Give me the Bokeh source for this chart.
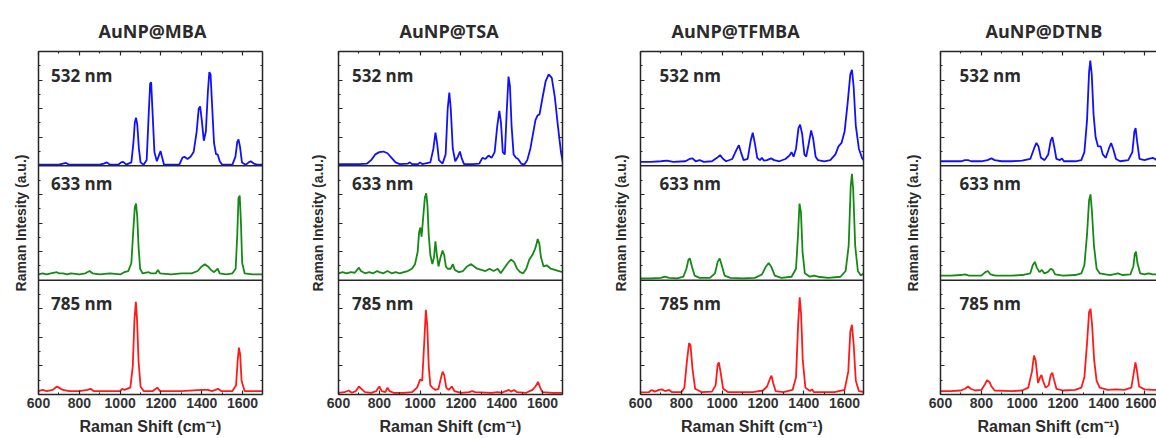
from bokeh.plotting import figure
from bokeh.layouts import row
from bokeh.models import Range1d, FixedTicker, Span, Label, LinearAxis
from bokeh.embed import file_html
from bokeh.resources import INLINE

# ---------------- data ----------------
titles = ["AuNP@MBA", "AuNP@TSA", "AuNP@TFMBA", "AuNP@DTNB"]
lasers = ["532 nm", "633 nm", "785 nm"]
line_colors = ["#1010ff", "#148a14", "#ff1a1a"]
x_major = [600, 800, 1000, 1200, 1400, 1600]
x_minor = [600, 700, 800, 900, 1000, 1100, 1200, 1300, 1400, 1500, 1600, 1700]
y_major = [0, 0.25, 0.5, 0.75, 1, 1.25, 1.5, 1.75, 2, 2.25, 2.5, 2.75, 3]
y_minor = [0.125, 0.375, 0.625, 0.875, 1.125, 1.375, 1.625, 1.875, 2.125, 2.375, 2.625, 2.875]
y_label = "Raman Intesity (a.u.)"
x_label = "Raman Shift (cm\u207b\u00b9)"

mba_532 = [(600,0.01),(640,0.01),(700,0.01),(720,0.02),(735,0.025),(750,0.01),(800,0.01),(900,0.01),(920,0.02),(935,0.03),(950,0.01),(990,0.01),(1005,0.03),(1015,0.035),(1030,0.01),(1055,0.03),(1065,0.2),(1072,0.38),(1078,0.42),(1084,0.36),(1092,0.15),(1100,0.03),(1115,0.01),(1130,0.05),(1140,0.45),(1147,0.72),(1152,0.73),(1158,0.5),(1168,0.12),(1180,0.04),(1192,0.1),(1198,0.13),(1205,0.08),(1215,0.01),(1260,0.01),(1290,0.01),(1305,0.07),(1315,0.08),(1330,0.06),(1345,0.08),(1360,0.12),(1375,0.3),(1385,0.5),(1392,0.52),(1400,0.4),(1410,0.22),(1420,0.3),(1430,0.65),(1437,0.82),(1443,0.8),(1450,0.55),(1460,0.2),(1470,0.1),(1478,0.1),(1488,0.04),(1500,0.01),(1550,0.01),(1565,0.08),(1574,0.21),(1580,0.23),(1587,0.17),(1597,0.03),(1615,0.01),(1630,0.03),(1640,0.04),(1655,0.02),(1670,0.01),(1700,0.01)]
mba_633 = [(600,0.05),(620,0.06),(640,0.05),(660,0.06),(690,0.07),(700,0.06),(720,0.06),(740,0.05),(760,0.06),(800,0.05),(830,0.06),(850,0.08),(865,0.06),(900,0.05),(950,0.06),(1000,0.05),(1020,0.07),(1040,0.08),(1055,0.15),(1065,0.45),(1072,0.64),(1078,0.67),(1084,0.55),(1090,0.3),(1098,0.1),(1110,0.06),(1140,0.07),(1150,0.06),(1175,0.06),(1185,0.09),(1195,0.06),(1250,0.05),(1300,0.06),(1350,0.06),(1380,0.08),(1400,0.12),(1415,0.14),(1430,0.12),(1445,0.09),(1460,0.07),(1478,0.1),(1488,0.06),(1520,0.05),(1550,0.06),(1566,0.1),(1574,0.4),(1580,0.72),(1586,0.74),(1592,0.5),(1598,0.15),(1610,0.06),(1650,0.05),(1700,0.05)]
mba_785 = [(600,0.03),(620,0.04),(640,0.03),(670,0.04),(690,0.07),(700,0.06),(720,0.04),(750,0.03),(800,0.03),(840,0.04),(855,0.05),(870,0.03),(950,0.03),(1000,0.03),(1010,0.05),(1020,0.04),(1050,0.06),(1062,0.25),(1070,0.65),(1077,0.81),(1083,0.65),(1090,0.3),(1100,0.07),(1115,0.03),(1160,0.03),(1175,0.05),(1182,0.06),(1195,0.03),(1300,0.03),(1400,0.04),(1430,0.04),(1450,0.03),(1480,0.05),(1495,0.03),(1550,0.03),(1568,0.08),(1576,0.3),(1582,0.41),(1588,0.35),(1595,0.12),(1610,0.03),(1700,0.03)]

tsa_532 = [(600,0.015),(650,0.015),(700,0.015),(740,0.02),(760,0.05),(780,0.1),(800,0.12),(820,0.125),(840,0.11),(860,0.07),(880,0.03),(900,0.015),(940,0.02),(950,0.03),(960,0.015),(990,0.015),(1000,0.03),(1010,0.015),(1050,0.03),(1065,0.15),(1075,0.29),(1083,0.2),(1092,0.05),(1110,0.02),(1125,0.1),(1135,0.5),(1143,0.64),(1150,0.5),(1160,0.15),(1172,0.04),(1185,0.08),(1195,0.125),(1203,0.07),(1215,0.015),(1260,0.015),(1290,0.02),(1305,0.07),(1320,0.06),(1335,0.09),(1350,0.07),(1365,0.12),(1378,0.35),(1388,0.48),(1396,0.38),(1405,0.12),(1415,0.1),(1425,0.5),(1433,0.78),(1440,0.7),(1448,0.35),(1458,0.1),(1470,0.07),(1480,0.06),(1495,0.02),(1510,0.01),(1525,0.05),(1540,0.15),(1555,0.3),(1565,0.4),(1575,0.44),(1585,0.45),(1600,0.6),(1615,0.74),(1630,0.8),(1645,0.77),(1660,0.6),(1675,0.35),(1690,0.12),(1700,0.02)]
tsa_633 = [(600,0.06),(620,0.07),(640,0.06),(660,0.07),(680,0.065),(700,0.11),(710,0.08),(730,0.06),(750,0.07),(770,0.06),(790,0.08),(800,0.07),(820,0.06),(840,0.08),(860,0.06),(880,0.07),(900,0.06),(920,0.07),(940,0.08),(960,0.1),(975,0.14),(988,0.25),(995,0.42),(1001,0.46),(1007,0.38),(1015,0.55),(1023,0.72),(1030,0.76),(1036,0.65),(1042,0.4),(1050,0.22),(1060,0.14),(1068,0.2),(1075,0.34),(1082,0.22),(1090,0.12),(1100,0.2),(1110,0.26),(1118,0.22),(1126,0.12),(1135,0.1),(1150,0.1),(1160,0.14),(1170,0.09),(1190,0.07),(1210,0.08),(1230,0.12),(1250,0.14),(1265,0.12),(1280,0.1),(1300,0.09),(1320,0.08),(1340,0.1),(1360,0.08),(1380,0.1),(1395,0.06),(1410,0.1),(1430,0.15),(1445,0.18),(1460,0.16),(1475,0.1),(1490,0.07),(1505,0.06),(1520,0.1),(1535,0.18),(1550,0.22),(1560,0.26),(1568,0.3),(1576,0.36),(1584,0.32),(1592,0.2),(1605,0.12),(1620,0.13),(1640,0.1),(1660,0.09),(1680,0.08),(1700,0.07)]
tsa_785 = [(600,0.015),(630,0.02),(650,0.035),(665,0.015),(685,0.03),(700,0.07),(712,0.05),(730,0.02),(760,0.015),(785,0.03),(800,0.07),(812,0.03),(830,0.02),(840,0.06),(850,0.03),(870,0.015),(920,0.015),(960,0.02),(985,0.06),(1000,0.13),(1010,0.12),(1020,0.45),(1028,0.74),(1035,0.6),(1042,0.25),(1050,0.08),(1060,0.06),(1075,0.04),(1090,0.05),(1100,0.13),(1110,0.2),(1118,0.17),(1128,0.06),(1140,0.04),(1155,0.07),(1168,0.03),(1200,0.015),(1240,0.02),(1255,0.03),(1270,0.02),(1350,0.015),(1380,0.02),(1400,0.015),(1420,0.03),(1435,0.04),(1445,0.025),(1460,0.04),(1475,0.02),(1520,0.015),(1550,0.04),(1565,0.07),(1578,0.11),(1588,0.06),(1600,0.02),(1650,0.015),(1700,0.015)]

tfmba_532 = [(600,0.035),(650,0.035),(700,0.04),(730,0.045),(760,0.035),(820,0.04),(840,0.06),(855,0.065),(870,0.04),(890,0.05),(910,0.035),(950,0.04),(975,0.07),(990,0.094),(1005,0.06),(1020,0.04),(1050,0.06),(1070,0.14),(1082,0.18),(1092,0.12),(1105,0.05),(1125,0.06),(1140,0.22),(1150,0.29),(1160,0.2),(1172,0.07),(1185,0.05),(1195,0.07),(1205,0.045),(1220,0.05),(1240,0.065),(1255,0.05),(1280,0.04),(1310,0.06),(1330,0.09),(1340,0.12),(1350,0.08),(1362,0.15),(1374,0.33),(1382,0.36),(1392,0.28),(1403,0.1),(1412,0.08),(1425,0.2),(1436,0.31),(1446,0.24),(1458,0.08),(1470,0.05),(1500,0.04),(1530,0.05),(1555,0.1),(1570,0.17),(1585,0.2),(1600,0.3),(1615,0.55),(1628,0.8),(1636,0.84),(1644,0.7),(1655,0.35),(1670,0.15),(1685,0.07),(1700,0.035)]
tfmba_633 = [(600,0.015),(650,0.015),(700,0.02),(720,0.03),(740,0.02),(780,0.015),(810,0.03),(825,0.1),(835,0.18),(842,0.19),(852,0.12),(865,0.04),(890,0.02),(940,0.02),(965,0.06),(978,0.16),(988,0.19),(998,0.13),(1012,0.04),(1040,0.02),(1100,0.015),(1160,0.02),(1195,0.05),(1215,0.12),(1228,0.15),(1240,0.12),(1258,0.04),(1290,0.02),(1340,0.03),(1362,0.1),(1372,0.4),(1379,0.67),(1386,0.6),(1394,0.25),(1405,0.06),(1430,0.03),(1450,0.04),(1470,0.03),(1520,0.02),(1580,0.03),(1605,0.08),(1620,0.3),(1630,0.82),(1636,0.93),(1642,0.8),(1652,0.3),(1665,0.08),(1680,0.04),(1700,0.07)]
tfmba_785 = [(600,0.018),(640,0.02),(655,0.04),(670,0.025),(690,0.04),(705,0.045),(720,0.03),(740,0.04),(755,0.02),(800,0.02),(815,0.06),(828,0.3),(838,0.45),(845,0.43),(855,0.22),(868,0.05),(900,0.02),(950,0.025),(968,0.08),(978,0.26),(984,0.28),(992,0.2),(1005,0.05),(1030,0.02),(1150,0.02),(1200,0.035),(1220,0.07),(1235,0.14),(1242,0.165),(1250,0.1),(1262,0.03),(1300,0.02),(1345,0.04),(1362,0.15),(1372,0.6),(1380,0.85),(1387,0.7),(1395,0.3),(1408,0.06),(1430,0.03),(1440,0.045),(1450,0.02),(1550,0.02),(1600,0.04),(1618,0.2),(1628,0.55),(1636,0.61),(1644,0.45),(1655,0.12),(1670,0.03),(1700,0.02)]

dtnb_532 = [(600,0.04),(650,0.04),(700,0.04),(720,0.05),(735,0.05),(750,0.04),(800,0.04),(830,0.05),(850,0.065),(865,0.05),(900,0.04),(950,0.04),(1000,0.045),(1040,0.06),(1058,0.15),(1070,0.2),(1080,0.17),(1092,0.07),(1110,0.05),(1128,0.1),(1140,0.22),(1148,0.25),(1157,0.17),(1168,0.06),(1185,0.05),(1195,0.065),(1205,0.04),(1260,0.04),(1290,0.05),(1305,0.12),(1318,0.4),(1328,0.82),(1334,0.92),(1341,0.8),(1350,0.45),(1360,0.25),(1372,0.17),(1385,0.17),(1395,0.1),(1410,0.07),(1425,0.15),(1436,0.2),(1446,0.15),(1460,0.06),(1480,0.04),(1520,0.05),(1540,0.12),(1550,0.3),(1556,0.33),(1563,0.22),(1575,0.06),(1600,0.05),(1620,0.06),(1640,0.07),(1660,0.05)]
dtnb_633 = [(600,0.04),(650,0.04),(700,0.045),(720,0.05),(740,0.04),(800,0.04),(820,0.07),(832,0.08),(845,0.05),(870,0.04),(950,0.04),(1000,0.045),(1040,0.06),(1052,0.13),(1062,0.16),(1072,0.11),(1085,0.07),(1097,0.09),(1108,0.06),(1125,0.07),(1140,0.1),(1150,0.09),(1162,0.05),(1200,0.04),(1260,0.045),(1290,0.06),(1305,0.13),(1318,0.4),(1328,0.7),(1335,0.75),(1342,0.6),(1352,0.3),(1365,0.1),(1380,0.06),(1430,0.045),(1470,0.06),(1490,0.045),(1530,0.05),(1545,0.12),(1552,0.23),(1558,0.25),(1565,0.15),(1578,0.06),(1600,0.05),(1620,0.06),(1640,0.05),(1660,0.05)]
dtnb_785 = [(600,0.03),(650,0.03),(700,0.035),(720,0.05),(735,0.07),(748,0.05),(770,0.035),(800,0.04),(815,0.08),(828,0.125),(840,0.11),(850,0.07),(865,0.035),(950,0.03),(1000,0.035),(1030,0.06),(1048,0.2),(1058,0.34),(1066,0.3),(1078,0.1),(1088,0.15),(1095,0.17),(1102,0.12),(1115,0.06),(1130,0.08),(1140,0.17),(1148,0.19),(1156,0.13),(1168,0.05),(1200,0.035),(1260,0.04),(1290,0.06),(1305,0.15),(1318,0.45),(1328,0.72),(1335,0.75),(1343,0.6),(1353,0.3),(1365,0.12),(1380,0.06),(1420,0.04),(1460,0.045),(1500,0.04),(1535,0.06),(1548,0.2),(1555,0.28),(1562,0.22),(1573,0.07),(1600,0.045),(1640,0.04),(1660,0.04)]

spectra = [
    [mba_532, mba_633, mba_785],
    [tsa_532, tsa_633, tsa_785],
    [tfmba_532, tfmba_633, tfmba_785],
    [dtnb_532, dtnb_633, dtnb_785],
]

# ---------------- layout / style ----------------
FRAME_COL = "#262626"
TXT_COL = "#2b2b2b"
panel_width = [300, 300, 300, 256]
border_left = [38, 38, 40, 40]
border_right = [38, 38, 37, 0]
title_offset = [60, 61, 31, 45]
ylab_standoff = [10, 13, 12, 20]
label_dx = [12.5, 13.5, 19, 19]       # pixels from frame left
label_dy = [24, 18, 23]               # pixels below each sub-panel top
SUB_H = 114.4
FULL_FRAME_W = 224.5
PX = 1100 / FULL_FRAME_W


def style_axis(ax, show_labels, label_gap=0):
    ax.axis_line_color = FRAME_COL
    ax.axis_line_width = 1.5
    ax.major_tick_in = 4
    ax.major_tick_out = 0
    ax.minor_tick_in = 2
    ax.minor_tick_out = 0
    ax.major_tick_line_color = FRAME_COL
    ax.minor_tick_line_color = FRAME_COL
    ax.major_tick_line_width = 1.2
    ax.minor_tick_line_width = 1.0
    if show_labels:
        ax.major_label_text_font = "Liberation Sans"
        ax.major_label_text_font_style = "bold"
        ax.major_label_text_font_size = "14px"
        ax.major_label_text_color = "#333333"
        ax.major_label_standoff = 3
    else:
        ax.major_label_text_font_size = "0px"
        ax.major_label_text_color = None
        ax.major_label_standoff = label_gap


figs = []
for i in range(4):
    W = panel_width[i]
    frame_w = W - border_left[i] - border_right[i]
    x_end = 600 + frame_w * PX
    p = figure(width=W, height=438, x_range=Range1d(600, x_end), y_range=Range1d(0, 3),
               output_backend="svg", toolbar_location=None,
               min_border_left=border_left[i], min_border_right=border_right[i],
               min_border_top=51, min_border_bottom=44, title=titles[i])
    p.grid.visible = False
    p.outline_line_color = None
    p.background_fill_color = "white"
    p.border_fill_color = "white"

    p.xaxis.ticker = FixedTicker(ticks=x_major, minor_ticks=x_minor)
    p.yaxis.ticker = FixedTicker(ticks=y_major, minor_ticks=y_minor)
    style_axis(p.xaxis[0], True)
    style_axis(p.yaxis[0], False)
    p.xaxis.axis_label = x_label
    p.xaxis.axis_label_text_font = "Liberation Sans"
    p.xaxis.axis_label_text_font_style = "bold"
    p.xaxis.axis_label_text_font_size = "16px"
    p.xaxis.axis_label_text_color = TXT_COL
    p.xaxis.axis_label_standoff = 7
    p.yaxis.axis_label = y_label
    p.yaxis.axis_label_text_font = "Liberation Sans"
    p.yaxis.axis_label_text_font_style = "bold"
    p.yaxis.axis_label_text_font_size = "14px"
    p.yaxis.axis_label_text_color = TXT_COL
    p.yaxis.axis_label_standoff = ylab_standoff[i]

    top_ax = LinearAxis(ticker=FixedTicker(ticks=x_major, minor_ticks=x_minor))
    style_axis(top_ax, False, label_gap=7)
    p.add_layout(top_ax, "above")
    if border_right[i] > 0:
        right_ax = LinearAxis(ticker=FixedTicker(ticks=y_major, minor_ticks=y_minor))
        style_axis(right_ax, False)
        p.add_layout(right_ax, "right")

    p.title.align = "left"
    p.title.offset = title_offset[i]
    p.title.text_font = "Open Sans"
    p.title.text_font_style = "bold"
    p.title.text_font_size = "18px"
    p.title.text_color = TXT_COL
    p.title.standoff = 18

    for k in range(3):
        off = 2 - k
        pts = spectra[i][k]
        xs = [a for a, b in pts]
        ys = [b + off for a, b in pts]
        p.line(xs, ys, line_color=line_colors[k], line_width=1.8)
        lx = 600 + label_dx[i] * PX
        ly = (off + 1) - label_dy[k] / SUB_H
        p.add_layout(Label(x=lx, y=ly, text=lasers[k], text_font="Open Sans",
                           text_font_style="bold", text_font_size="17px",
                           text_color=TXT_COL, text_baseline="middle"))

    for yv in [1, 2]:
        p.add_layout(Span(location=yv, dimension="width", line_color=FRAME_COL, line_width=1.5))

    figs.append(p)

layout = row(*figs, spacing=0)
open("out.html", "w").write(file_html(layout, INLINE))
